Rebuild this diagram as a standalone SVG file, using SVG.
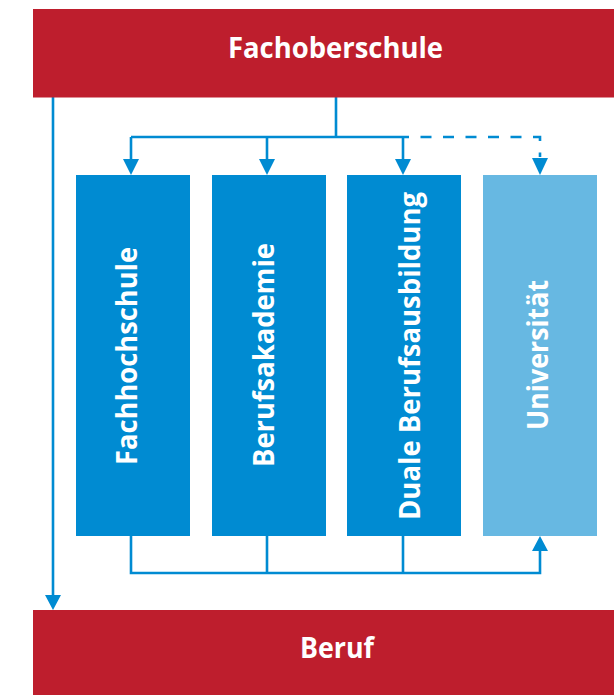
<svg xmlns="http://www.w3.org/2000/svg" width="614" height="695" viewBox="0 0 614 695">
  <style>
    .red { fill: #BE1E2D; }
    .blue { fill: #008BD2; }
    .lblue { fill: #67B8E2; }
    .lbl { font-family: "Open Sans", "Liberation Sans", sans-serif; font-weight: bold; fill: #FFFFFF; text-anchor: middle; }
    .h { font-size: 28px; }
    .v { font-size: 29px; }
    .ln { fill: none; stroke: #008BD2; stroke-width: 2.6; }
    .dash { stroke-dasharray: 11 11.5; stroke-dashoffset: 11; }
    .ah { fill: #008BD2; }
  </style>
  <rect width="614" height="695" fill="#FFFFFF"/>
  <g id="connectors">
    <path class="ln" d="M53 97 V596"/>
    <polygon class="ah" points="45,595 61,595 53,610"/>
    <path class="ln" d="M336 97 V137 M131 137 H409 M131 137 V160 M267 137 V160 M403 137 V160"/>
    <path class="ln dash" d="M409 137 H540 V157"/>
    <polygon class="ah" points="123,159 139,159 131,175"/>
    <polygon class="ah" points="259,159 275,159 267,175"/>
    <polygon class="ah" points="395,159 411,159 403,175"/>
    <polygon class="ah" points="532,158 548,158 540,175"/>
    <path class="ln" d="M131 535 V573 H540 V550 M267 535 V573 M403 535 V573"/>
    <polygon class="ah" points="532,551 548,551 540,536"/>
  </g>
  <g id="fachoberschule">
    <rect class="red" x="33" y="9" width="581" height="88.5"/>
    <text class="lbl h" x="335.5" y="58.3" textLength="215" lengthAdjust="spacingAndGlyphs">Fachoberschule</text>
  </g>
  <g id="fachhochschule">
    <rect class="blue" x="76" y="175" width="114" height="361"/>
    <text class="lbl v" transform="translate(137.3,356) rotate(-90)" textLength="218" lengthAdjust="spacingAndGlyphs">Fachhochschule</text>
  </g>
  <g id="berufsakademie">
    <rect class="blue" x="212" y="175" width="114" height="361"/>
    <text class="lbl v" transform="translate(274,355) rotate(-90)" textLength="224" lengthAdjust="spacingAndGlyphs">Berufsakademie</text>
  </g>
  <g id="duale-berufsausbildung">
    <rect class="blue" x="347" y="175" width="114" height="361"/>
    <text class="lbl v" transform="translate(420,356) rotate(-90)" textLength="328" lengthAdjust="spacingAndGlyphs">Duale Berufsausbildung</text>
  </g>
  <g id="universitaet">
    <rect class="lblue" x="483" y="175" width="114" height="361"/>
    <text class="lbl v" transform="translate(548,355) rotate(-90)" textLength="150" lengthAdjust="spacingAndGlyphs">Universität</text>
  </g>
  <g id="beruf">
    <rect class="red" x="33" y="610" width="581" height="85"/>
    <text class="lbl h" x="337" y="658" textLength="74" lengthAdjust="spacingAndGlyphs">Beruf</text>
  </g>
</svg>
